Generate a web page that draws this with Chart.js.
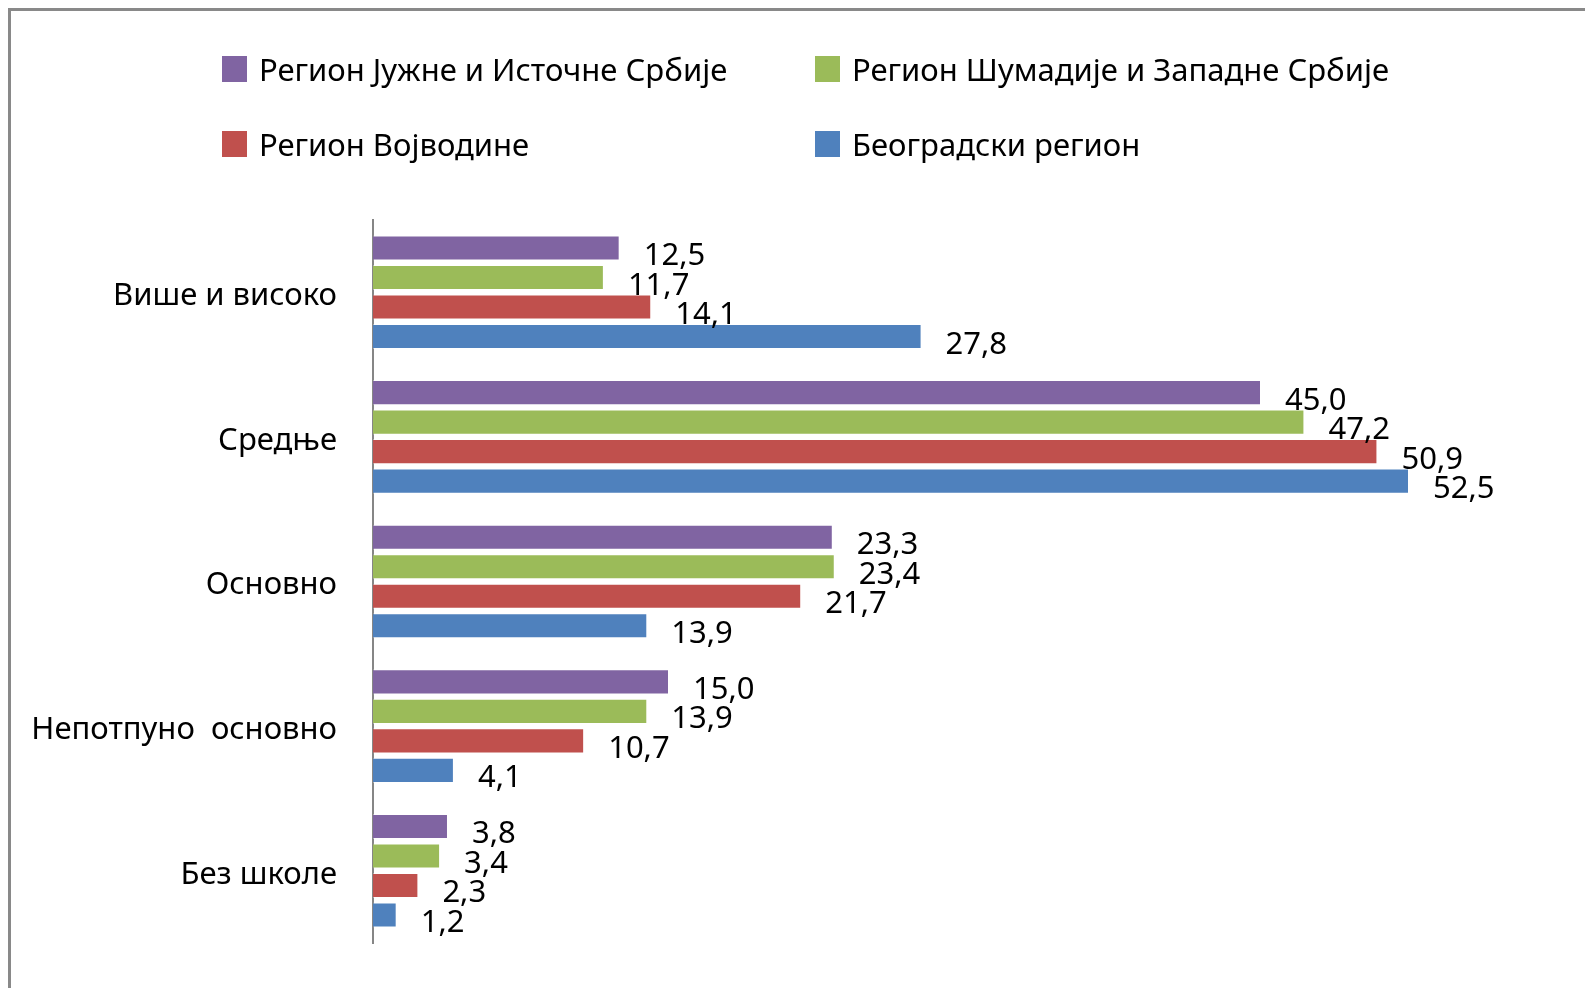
<!DOCTYPE html>
<html lang="sr">
<head>
<meta charset="UTF-8">
<meta name="viewport" content="width=device-width, initial-scale=1.0">
<title>Образовање по регионима</title>
<script src="https://cdn.jsdelivr.net/npm/chart.js"></script>
<style>
    html, body {
        margin: 0;
        padding: 0;
        background: #fff;
    }
    body {
        width: 1585px;
        height: 988px;
        position: relative;
        overflow: hidden;
        font-family: "Noto Sans", sans-serif;
    }
    .frame {
        position: absolute;
        left: 8px;
        top: 8px;
        width: 1650px;
        height: 1050px;
        border-top: 3px solid #898989;
        border-left: 3px solid #898989;
    }
    .chart-box {
        position: absolute;
        left: 0;
        top: 0;
        width: 1585px;
        height: 988px;
    }
    .legend-item {
        position: absolute;
        display: flex;
        align-items: center;
        transform: translateY(-50%);
        font-size: 31px;
        color: #000;
        white-space: pre;
    }
    .swatch {
        width: 25px;
        height: 26px;
        margin-right: 12px;
    }
</style>
</head>
<body>
<div class="frame"></div>
<div class="chart-box"><canvas id="chart"></canvas></div>
<div id="legend"></div>

<script>
    // категорије (ниво образовања)
    const categories = ['Више и високо', 'Средње', 'Основно', 'Непотпуно  основно', 'Без школе'];

    // серије по регионима (%)
    const juznaIstocna = [12.5, 45.0, 23.3, 15.0, 3.8];
    const sumadijaZapadna = [11.7, 47.2, 23.4, 13.9, 3.4];
    const vojvodina = [14.1, 50.9, 21.7, 10.7, 2.3];
    const beograd = [27.8, 52.5, 13.9, 4.1, 1.2];

    const seriesNames = ['Регион Јужне и Источне Србије', 'Регион Шумадије и Западне Србије', 'Регион Војводине', 'Београдски регион'];
    const seriesColors = ['#8064A2', '#9BBB59', '#C0504D', '#4F81BD'];
    const seriesData = [juznaIstocna, sumadijaZapadna, vojvodina, beograd];

    // легенда: две колоне, два реда
    const legendPos = [[222, 69], [815, 69], [222, 144], [815, 144]];
    const legendEl = document.getElementById('legend');
    seriesNames.forEach((name, i) => {
        const item = document.createElement('div');
        item.className = 'legend-item';
        item.style.left = legendPos[i][0] + 'px';
        item.style.top = legendPos[i][1] + 'px';
        const sw = document.createElement('span');
        sw.className = 'swatch';
        sw.style.background = seriesColors[i];
        const txt = document.createElement('span');
        txt.textContent = name;
        item.appendChild(sw);
        item.appendChild(txt);
        legendEl.appendChild(item);
    });

    // вредности десно од трака
    const valueLabels = {
        id: 'valueLabels',
        afterDatasetsDraw(chart) {
            const ctx = chart.ctx;
            ctx.save();
            ctx.font = '31px "Noto Sans"';
            ctx.fillStyle = '#000';
            ctx.textAlign = 'left';
            ctx.textBaseline = 'alphabetic';
            chart.data.datasets.forEach((ds, i) => {
                chart.getDatasetMeta(i).data.forEach((bar, j) => {
                    const txt = ds.data[j].toFixed(1).replace('.', ',');
                    ctx.fillText(txt, bar.x + 24, bar.y + 17);
                });
            });
            ctx.restore();
        }
    };

    const ctx = document.getElementById('chart').getContext('2d');
    new Chart(ctx, {
        type: 'bar',
        data: {
            labels: categories,
            datasets: seriesNames.map((name, i) => ({
                label: name,
                data: seriesData[i],
                backgroundColor: seriesColors[i],
                borderColor: 'rgba(255, 255, 255, 0.35)',
                borderWidth: 1,
                categoryPercentage: 0.816,
                barPercentage: 0.85
            }))
        },
        options: {
            indexAxis: 'y',
            responsive: true,
            maintainAspectRatio: false,
            animation: false,
            layout: {
                padding: { left: 10, right: 28, top: 220, bottom: 45 }
            },
            plugins: {
                legend: { display: false },
                tooltip: { enabled: false }
            },
            scales: {
                x: {
                    display: false,
                    min: 0,
                    max: 60
                },
                y: {
                    afterFit: scale => {
                        scale.width = 363;
                        // tick padding should only push labels sideways
                        scale.paddingTop = 0;
                        scale.paddingBottom = 0;
                    },
                    grid: { display: false, drawTicks: false },
                    border: { display: true, color: '#868686', width: 2 },
                    ticks: {
                        color: '#000',
                        padding: 36,
                        labelOffset: 4,
                        font: { family: '"Noto Sans"', size: 31 }
                    }
                }
            }
        },
        plugins: [valueLabels]
    });
</script>
</body>
</html>
